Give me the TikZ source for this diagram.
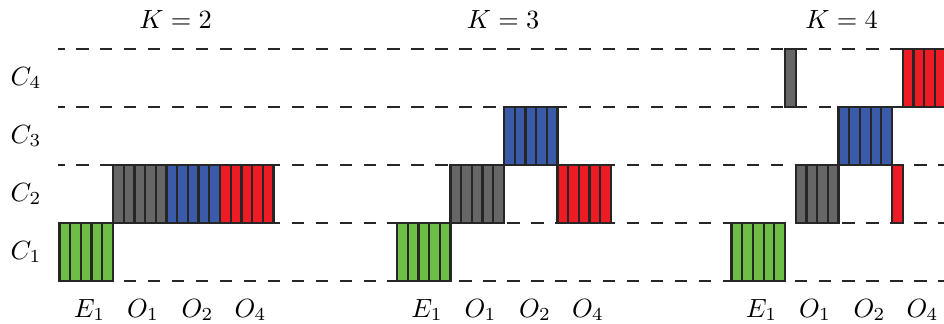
\documentclass[tikz,border=0pt]{standalone}
\usepackage{tikz}
\definecolor{cgreen}{HTML}{6DBE45}
\definecolor{cgray}{HTML}{666666}
\definecolor{cblue}{HTML}{3A5BA9}
\definecolor{cred}{HTML}{ED1C24}
\definecolor{edge}{HTML}{262626}
\tikzset{
  cell/.style={draw=edge, line width=0.85pt},
  guide/.style={draw=edge, line width=0.7pt, dash pattern=on 4.7pt off 4.4pt, dash phase=2.2pt},
  lbl/.style={inner sep=0pt, anchor=base},
  title/.style={inner sep=0pt},
}

\begin{document}
\begin{tikzpicture}[x=0.38pt, y=-0.38pt]
  \useasboundingbox (0,0) rectangle (944,324);

  % level lines
  \foreach \y in {49,107,165,223,281}
    \draw[guide] (58,\y) -- (944,\y);

  % row labels
  \foreach \r/\y in {1/252, 2/194, 3/136, 4/78}
    \node (C\r) at (26,\y) {$C_\r$};

  % bar groups: start x / row / bars / colour
  \foreach \x/\r/\n/\c in {
      59.5/1/5/cgreen, 113/2/5/cgray, 166.5/2/5/cblue, 220/2/5/cred,
      397/1/5/cgreen, 450.5/2/5/cgray, 504/3/5/cblue, 557.5/2/5/cred,
      731.5/1/5/cgreen, 785/4/1/cgray, 795.7/2/4/cgray, 838.5/3/5/cblue,
      892/2/1/cred, 902.7/4/4/cred}
    \foreach \i in {1,...,\n}
      \draw[cell, fill=\c] ({\x+(\i-1)*10.7},{281-\r*58}) rectangle ++(10.7,58);

  % column labels
  \foreach \p/\x in {a/59.5, b/397, c/731.5} {
    \node[lbl] (E1\p) at (\x+30,317) {$E_1$};
    \node[lbl] (O1\p) at (\x+83.5,317) {$O_1$};
    \node[lbl] (O2\p) at (\x+138,317) {$O_2$};
    \node[lbl] (O4\p) at (\x+191,317) {$O_4$};
  }

  % panel titles
  \node[title] (K2) at (175.5,20) {$K=2$};
  \node[title] (K3) at (503,20) {$K=3$};
  \node[title] (K4) at (841.5,20) {$K=4$};

\end{tikzpicture}
\end{document}
